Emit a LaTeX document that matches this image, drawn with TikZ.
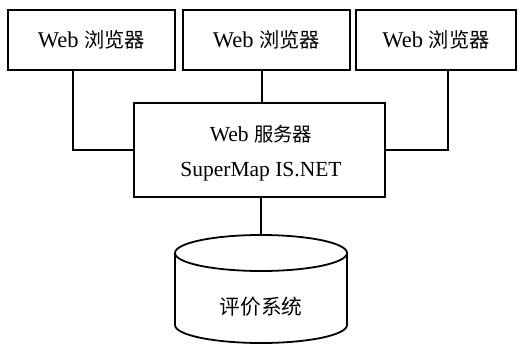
\documentclass[tikz,border=0pt]{standalone}
\usepackage{fontspec}
\setmainfont{Liberation Serif}
\newfontfamily\cjk[Scale=0.9]{Noto Sans CJK SC}
\begin{document}
\begin{tikzpicture}[x=1pt,y=-1pt,
  box/.style={draw,line width=1.8pt,rectangle,inner sep=0pt,font=\fontsize{22.5}{26}\selectfont},
  txt/.style={font=\fontsize{21.5}{25}\selectfont,align=center,inner sep=0pt},
  conn/.style={line width=1.8pt}]
\useasboundingbox (0,0) rectangle (518,345);
\node[box,minimum width=167,minimum height=60] (b1) at (91.5,40) {Web {\cjk 浏览器}};
\node[box,minimum width=167,minimum height=60] (b2) at (266.5,40) {Web {\cjk 浏览器}};
\node[box,minimum width=160,minimum height=60] (b3) at (436,40) {Web {\cjk 浏览器}};
\node[box,minimum width=251,minimum height=94] (srv) at (259.5,150) {};
\node[txt] (srvtext) at (261,153) {Web {\cjk 服务器}\\[10pt]SuperMap IS.NET};
% cylinder
\coordinate (cyltop) at (261,235);
\draw[conn] (175,253) arc[start angle=180,end angle=-180,x radius=86,y radius=18];
\draw[conn] (175,253) -- (175,325) arc[start angle=180,end angle=0,x radius=86,y radius=18] -- (347,253);
\node[font=\fontsize{23}{26}\selectfont] (db) at (261,307) {\cjk 评价系统};
% connectors
\draw[conn] (b1.south -| 73,0) |- (srv.west);
\draw[conn] (b3.south -| 448,0) |- (srv.east);
\draw[conn] (b2.south -| 262,0) -- (srv.north -| 262,0);
\draw[conn] (srv.south -| 261,0) -- (cyltop);
\end{tikzpicture}
\end{document}
